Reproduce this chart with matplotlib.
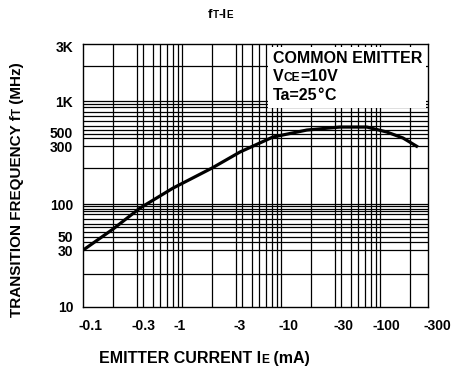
import matplotlib
matplotlib.use("Agg")
import matplotlib.pyplot as plt
import matplotlib.transforms as mtransforms
from matplotlib.patches import Rectangle
from matplotlib.offsetbox import TextArea, HPacker, VPacker, AnnotationBbox

FONT = "Liberation Sans"

# curve (emitter current mA, fT MHz)
ie_ma = [0.1, 0.2, 0.374, 0.804, 1.99, 3.82, 8.22, 18.1, 39, 73, 116, 169, 239]
ft_mhz = [35.8, 57.3, 91.6, 143, 224, 321, 449, 525, 561, 561, 502, 439, 359]

# grid of the printed log paper (irregular, as drawn)
x_grid = [0.2, 0.35, 0.4, 0.5, 0.6, 0.7, 0.8, 0.9, 1, 2, 3.5, 4, 5, 6, 7, 8, 9,
          10, 20, 35, 40, 50, 60, 70, 80, 90, 100, 200]
y_grid = [21, 36, 43, 48, 53, 60, 64, 71, 80, 85, 90, 96, 100,
          223, 367, 436, 480, 525, 578, 647, 718, 791, 873, 940, 1000, 2210]

# tick labels
x_ticks = [0.1, 0.3, 1, 3, 10, 30, 100, 300]
x_labels = ["-0.1", "-0.3", "-1", "-3", "-10", "-30", "-100", "-300"]
x_label_shift = [7.5, 13, -3, 10.5, 7, 15, 6, 10]   # pixels, as printed
y_ticks = [10, 35.5, 48, 100, 360, 500, 1000, 3400]
y_labels = ["10", "30", "50", "100", "300", "500", "1K", "3K"]


def rich(pieces, size):
    """Row of text pieces with mixed sizes on one baseline."""
    kids = [TextArea(s, textprops=dict(fontsize=size * k, fontweight="bold",
                                       family=FONT, color="black"))
            for s, k in pieces]
    return HPacker(children=kids, align="baseline", pad=0, sep=0)


fig = plt.figure(figsize=(4.55, 3.70), dpi=100)
ax = fig.add_axes([83.3 / 455, 63 / 370, 344.4 / 455, 263 / 370])
ax.set_xscale("log")
ax.set_yscale("log")
ax.set_xlim(0.1, 300)
ax.set_ylim(10, 3600)

ax.vlines(x_grid, 10, 3600, color="black", lw=0.9, zorder=1)
ax.hlines(y_grid, 0.1, 300, color="black", lw=0.9, zorder=1)

# white box behind the condition text
ax.add_patch(Rectangle((0.536, 0.757), 0.458, 0.232, transform=ax.transAxes,
                       facecolor="white", edgecolor="none", zorder=2))

ax.plot(ie_ma, ft_mhz, color="black", lw=2.3, zorder=4,
        solid_capstyle="butt")

for s in ax.spines.values():
    s.set_linewidth(1.0)
    s.set_color("black")

ax.minorticks_off()
ax.set_xticks(x_ticks)
ax.set_xticklabels(x_labels)
ax.set_yticks(y_ticks)
ax.set_yticklabels(y_labels)
ax.tick_params(axis="both", length=0, labelsize=10)
ax.tick_params(axis="x", pad=9.0)
ax.tick_params(axis="y", pad=7.2)
for lab in ax.get_xticklabels() + ax.get_yticklabels():
    lab.set_fontweight("bold")
    lab.set_family(FONT)
for lab, dx in zip(ax.get_xticklabels(), x_label_shift):
    lab.set_transform(lab.get_transform() +
                      mtransforms.ScaledTranslation(dx / 100, 0, fig.dpi_scale_trans))

# condition text
cond = VPacker(children=[rich([("COMMON EMITTER", 1)], 11.5),
                         rich([("V", 1), ("CE", 0.75), ("=10V", 1)], 11.5),
                         rich([("Ta=25", 1), ("°", 1), ("C", 1)], 11.5)],
               align="left", pad=0, sep=2.5)
fig.add_artist(AnnotationBbox(cond, (273 / 455, 1 - 51 / 370),
                              xycoords="figure fraction", frameon=False,
                              box_alignment=(0, 1), pad=0, zorder=5))

# title
title = rich([("f", 1), ("T", 0.75), ("-I", 1), ("E", 0.75)], 9.5)
fig.add_artist(AnnotationBbox(title, (220.5 / 455, 1 - 15 / 370),
                              xycoords="figure fraction", frameon=False,
                              box_alignment=(0.5, 0.5), pad=0))

# x axis label
xlab = rich([("EMITTER CURRENT I", 1), ("E", 0.75), (" (mA)", 1)], 11.5)
fig.add_artist(AnnotationBbox(xlab, (204.5 / 455, 1 - 358.5 / 370),
                              xycoords="figure fraction", frameon=False,
                              box_alignment=(0.5, 0.5), pad=0))

# y axis label, built piece by piece along the rotated baseline
t1 = fig.text(24 / 455, 53 / 370, "TRANSITION FREQUENCY f", rotation=90,
              ha="right", va="bottom", fontsize=11, fontweight="bold", family=FONT)
t2 = ax.annotate("T", xy=(1, 1), xycoords=t1, rotation=90, ha="right", va="bottom",
                 fontsize=8.3, fontweight="bold", family=FONT, annotation_clip=False)
ax.annotate(" (MHz)", xy=(1, 1), xycoords=t2, rotation=90, ha="right", va="bottom",
            fontsize=11, fontweight="bold", family=FONT, annotation_clip=False)

fig.savefig("out.png", dpi=100)
